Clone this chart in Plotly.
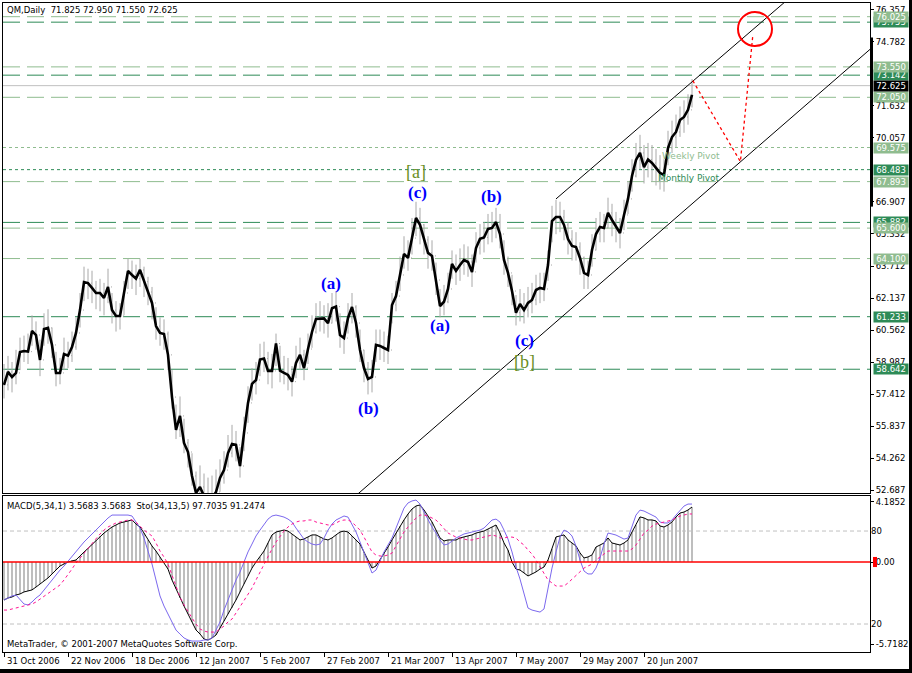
import plotly.graph_objects as go

# ---------------- data ----------------
date_tick_bars = [0, 16, 32, 48, 64, 80, 96, 112, 128, 144, 160]
date_tick_labels = ["31 Oct 2006", "22 Nov 2006", "18 Dec 2006", "12 Jan 2007", "5 Feb 2007",
                    "27 Feb 2007", "21 Mar 2007", "13 Apr 2007", "7 May 2007", "29 May 2007", "20 Jun 2007"]

close = [57.87,58.51,58.26,58.46,59.49,59.54,59.51,60.53,60.33,59.10,
60.63,60.68,59.84,58.46,58.46,59.39,59.31,59.74,60.43,61.56,
62.94,62.89,62.65,62.40,62.40,62.16,62.70,61.56,61.27,61.27,
62.40,63.49,63.29,63.11,63.54,62.96,62.45,61.91,60.77,60.43,
60.38,59.35,57.27,55.65,56.34,55.01,54.56,53.38,52.54,52.84,
52.39,52.19,52.29,52.59,53.28,53.67,54.51,54.96,54.91,53.87,
55.50,56.98,57.92,58.11,59.12,59.17,58.56,58.56,59.91,58.57,
58.46,58.36,58.03,58.95,59.35,58.70,59.64,60.48,61.12,61.15,
61.15,60.92,61.65,61.73,60.33,60.18,61.17,61.71,60.92,59.59,
58.70,58.16,58.26,59.84,59.79,59.69,59.59,61.81,62.25,63.29,
64.33,64.13,65.11,66.10,65.76,65.02,64.38,64.23,63.04,61.76,
61.97,62.60,63.83,63.49,63.78,64.03,63.93,63.44,64.62,65.07,
65.14,65.56,65.61,65.90,65.31,64.03,63.39,62.50,61.43,61.86,
61.56,61.91,62.06,62.55,62.65,62.60,63.78,65.95,66.15,66.15,
65.76,65.06,64.72,64.67,64.13,63.39,63.29,64.52,65.31,65.66,
65.61,66.35,66.00,65.66,65.36,66.25,67.04,68.17,68.96,69.31,
68.61,68.98,68.81,68.57,68.32,68.22,69.55,70.09,70.34,70.93,
71.08,71.43,72.17]

high = [58.9,59.3,59.0,59.6,60.2,60.3,60.4,61.3,61.0,60.1,
61.4,61.6,60.7,59.5,59.2,60.2,60.0,60.5,61.2,62.4,
63.7,63.6,63.5,63.0,63.1,62.9,63.6,62.4,62.0,61.9,
63.0,64.1,64.0,63.8,64.1,63.7,63.2,62.7,61.7,61.2,
61.1,60.5,58.6,56.9,57.3,56.2,55.2,54.5,53.6,53.9,
53.5,53.3,53.4,53.7,54.2,54.6,55.4,55.9,55.6,54.8,
56.3,57.8,58.7,59.0,59.9,60.0,59.5,59.4,60.4,59.8,
59.3,59.2,58.8,59.8,60.2,59.6,60.4,61.3,61.9,62.0,
61.8,61.9,62.4,62.5,61.4,61.0,61.9,62.4,61.8,60.6,
59.6,59.0,59.1,60.6,60.6,60.5,60.3,62.4,63.0,64.2,
65.2,65.0,66.1,66.9,66.6,65.8,65.2,65.0,63.9,62.6,
62.8,63.4,64.5,64.3,64.6,64.8,64.7,64.3,65.4,65.8,
65.9,66.3,66.4,66.6,66.3,65.0,64.2,63.3,62.3,62.6,
62.4,62.7,62.9,63.3,63.4,63.4,64.5,66.7,67.0,66.9,
66.5,65.9,65.5,65.4,64.9,64.2,64.0,65.3,66.1,66.4,
66.3,67.1,66.8,66.4,66.1,67.0,67.9,69.0,69.8,70.2,
69.7,69.8,69.7,69.5,69.2,69.0,70.4,70.9,71.2,71.6,
71.9,72.2,72.95]

low = [57.2,57.6,57.5,57.9,58.6,59.0,58.9,59.8,59.6,58.3,
59.8,59.9,59.2,57.8,57.9,58.6,58.7,59.0,59.6,60.7,
62.0,62.1,61.9,61.6,61.5,61.3,61.9,60.9,60.5,60.6,
61.3,62.6,62.6,62.3,62.7,62.2,61.8,61.1,60.1,59.8,
59.6,58.6,56.7,55.2,55.3,54.5,53.8,52.9,52.1,52.2,
51.9,51.8,51.9,52.0,52.6,53.0,53.8,54.3,54.1,53.3,
54.6,56.0,57.1,57.4,58.3,58.5,57.9,57.7,58.8,58.0,
57.9,57.6,57.3,58.2,58.6,58.1,58.9,59.7,60.4,60.5,
60.4,60.2,60.9,61.0,59.7,59.4,60.4,60.9,60.2,59.0,
58.0,57.4,57.5,59.0,59.1,59.0,58.9,60.9,61.5,62.5,
63.6,63.5,64.3,65.2,64.8,64.3,63.6,63.5,62.3,61.2,
61.3,61.9,63.1,62.8,63.0,63.3,63.2,62.7,63.9,64.3,
64.4,64.8,64.9,65.1,64.6,63.3,62.7,61.8,60.8,61.0,
60.9,61.2,61.4,61.8,61.9,62.0,63.0,64.9,65.3,65.4,
65.0,64.3,64.0,64.0,63.3,62.6,62.6,63.7,64.5,64.9,
64.9,65.6,65.2,64.9,64.6,65.5,66.3,67.4,68.1,68.5,
67.8,68.1,67.9,67.7,67.5,67.4,68.7,69.3,69.6,70.1,
70.3,70.7,71.55]

macd = [-2.64,-2.50,-2.43,-2.29,-2.22,-2.08,-2.01,-1.94,-1.74,-1.53,
-1.32,-1.11,-0.83,-0.56,-0.28,-0.14,0.0,0.07,0.14,0.42,
0.69,0.97,1.25,1.53,1.81,2.01,2.22,2.43,2.57,2.71,
2.78,2.85,2.92,2.64,2.43,2.01,1.53,1.11,0.76,0.35,
0.0,-0.49,-1.25,-1.88,-2.50,-3.06,-3.61,-4.17,-4.72,-5.00,
-5.35,-5.42,-5.28,-5.07,-4.58,-4.10,-3.61,-3.19,-2.64,-2.08,
-1.53,-0.97,-0.42,0.0,0.35,0.76,1.32,1.88,2.08,2.15,
2.22,2.15,1.94,1.74,1.53,1.60,1.74,1.88,1.88,1.74,
1.60,1.53,1.67,1.88,2.08,2.15,2.08,1.81,1.53,1.25,
0.69,0.14,-0.42,-0.28,0.14,0.63,1.04,1.53,2.01,2.50,
2.92,3.33,3.68,3.89,3.96,3.61,3.19,2.78,2.22,1.67,
1.46,1.53,1.53,1.53,1.67,1.74,1.81,1.88,2.01,2.08,
2.15,2.29,2.43,2.57,2.01,1.32,0.83,0.0,-0.49,-0.56,
-0.76,-0.97,-0.83,-0.69,-0.49,-0.35,0.14,0.90,1.74,1.81,
1.88,1.53,1.32,1.11,0.63,0.28,0.35,0.49,1.04,1.18,
1.32,1.67,1.32,1.25,1.18,1.32,1.53,2.08,2.57,3.13,
3.06,2.92,2.92,2.85,2.50,2.43,2.57,2.78,3.13,3.40,
3.47,3.61,3.82]

stoch_main = [35.5,36.8,38.1,38.7,35.5,32.9,32.3,34.2,36.8,38.7,
41.9,45.2,48.4,51.6,54.8,57.4,60.6,63.9,67.1,70.3,
72.9,75.5,78.1,80.6,83.2,85.8,88.4,90.3,90.3,90.3,
90.3,90.3,89.7,85.8,81.9,75.5,67.7,58.7,48.4,38.1,
31.6,26.5,21.3,16.1,13.5,11.0,9.7,9.0,9.0,9.0,
9.7,9.7,11.0,16.1,21.3,29.0,35.5,41.9,48.4,53.5,
60.0,66.5,71.6,76.8,80.6,84.5,87.7,89.7,90.3,89.7,
89.0,87.7,85.8,81.9,78.1,74.8,72.9,71.6,71.0,71.6,
75.5,80.6,84.5,87.1,88.4,89.7,89.0,84.5,79.4,72.9,
66.5,59.4,52.9,54.8,61.3,66.5,71.0,75.5,81.9,88.4,
94.8,98.1,99.4,100.0,97.4,92.3,87.1,82.6,78.7,74.2,
71.0,71.6,73.5,75.5,76.8,78.1,78.7,79.4,80.0,80.6,
81.9,84.5,87.1,87.7,85.8,80.6,74.8,66.5,56.8,49.0,
39.4,30.3,29.0,28.4,27.7,29.7,43.2,56.1,66.5,76.1,
80.6,79.4,76.8,70.3,61.3,54.2,52.3,52.3,56.1,62.6,
71.6,78.7,78.1,77.4,76.1,74.8,75.5,82.6,90.3,93.5,
92.9,91.6,90.3,89.0,85.8,85.2,85.2,87.1,90.3,93.5,
96.1,97.4,97.4]

stoch_signal = [29.0,29.0,29.7,30.3,31.0,31.6,32.3,32.9,34.2,36.1,
38.1,40.0,41.9,43.2,45.2,48.4,51.6,55.5,59.4,62.6,
65.8,69.0,71.6,74.8,78.1,80.6,82.6,83.9,85.2,85.8,
86.5,87.1,87.1,85.8,83.2,80.6,78.7,76.8,72.3,67.1,
63.2,58.7,51.6,43.9,37.4,32.3,27.7,23.9,20.0,16.8,
15.5,14.8,14.8,14.8,16.8,18.7,21.3,23.2,27.1,31.0,
35.5,39.4,43.2,48.4,53.5,58.7,63.9,68.4,72.9,76.8,
80.0,82.6,84.5,85.8,86.5,86.5,87.1,87.1,85.8,85.2,
84.5,83.9,83.9,85.2,86.5,87.1,87.1,85.8,83.2,80.6,
76.1,71.0,66.5,64.5,63.9,63.9,64.5,65.8,70.3,75.5,
79.4,82.6,85.8,88.4,90.3,90.3,89.7,88.4,87.1,84.5,
81.3,78.7,77.4,76.1,75.5,74.8,74.2,74.2,74.8,75.5,
76.1,76.8,77.4,76.8,75.5,75.5,76.1,76.1,75.5,72.9,
71.0,67.7,65.2,61.3,56.8,52.3,48.4,46.5,44.5,44.5,
44.5,46.5,49.0,51.6,54.2,56.1,57.4,58.7,61.3,63.2,
65.2,67.1,67.1,67.1,67.1,67.1,67.1,68.4,71.0,74.8,
78.7,80.6,83.2,84.5,85.2,85.8,86.5,87.1,88.4,89.7,
90.3,91.0,91.0]

price_ticks = [76.357, 74.782, 71.632, 70.057, 66.907, 65.332, 63.712, 62.137,
               60.562, 58.987, 57.412, 55.837, 54.262, 52.687]

# horizontal levels: value, colour kind, dotted?
level_values = [75.755, 73.142, 68.483, 65.882, 61.233, 58.642,
                76.025, 73.550, 72.050, 69.575, 67.893, 65.600, 64.100]
level_kind = ["dark", "dark", "dark", "dark", "dark", "dark",
              "light", "light", "light", "light", "light", "light", "light"]
level_dotted = [False, False, True, False, False, False,
                False, False, False, True, False, False, False]
last_price = 72.625
header_text = "QM,Daily  71.825 72.950 71.550 72.625"
macd_header = "MACD(5,34,1) 3.5683 3.5683  Sto(34,13,5) 97.7035 91.2474"
copyright_text = "MetaTrader, \u00a9 2001-2007 MetaQuotes Software Corp."

wave_text = ["(a)", "(b)", "(c)", "(a)", "(b)", "(c)"]
wave_bar = [81.75, 91.0, 103.25, 109.0, 121.75, 130.0]
wave_price = [62.89, 56.73, 67.38, 60.78, 67.14, 60.08]
degree_text = ["[a]", "[b]"]
degree_bar = [103.0, 130.0]
degree_price = [68.37, 59.0]

upper_channel_bar = [138, 205]
upper_channel_price = [67.04, 78.41]
lower_channel_bar = [85, 217]
lower_channel_price = [51.9, 74.5]
projection_bar = [172.2, 184.1, 187.2]
projection_price = [72.87, 68.88, 75.1]
target_bar = [183.5, 192.0]
target_price = [74.58, 76.26]

pivot_text = ["Weekly Pivot", "Monthly Pivot"]
pivot_bar = [164.0, 163.0]
pivot_price = [69.16, 68.07]
pivot_kind = ["light", "dark"]

macd_ticks = [4.1852, 0.0, -5.7182]
macd_tick_text = ["4.1852", "0.00", "-5.7182"]
stoch_levels = [80, 20]

# ---------------- styling ----------------
LIGHT = "#8FBC8F"
DARK = "#2E8B57"
FONT = "DejaVu Sans"
W, H = 912, 673
L, R, T, B = 3, 42, 3, 21
plot_w = W - L - R
plot_h = H - T - B
main_bottom_px = 493
macd_top_px = 496

def py(px):  # pixel y -> paper y
    return (H - B - px) / plot_h

def pxx(px):  # pixel x -> paper x
    return (px - L) / plot_w

bars = list(range(len(close)))
open_ = [close[0]] + close[:-1]

fig = go.Figure()

fig.add_trace(go.Ohlc(x=bars, open=open_, high=high, low=low, close=close,
                      increasing=dict(line=dict(color="#A8A8A8", width=1)),
                      decreasing=dict(line=dict(color="#A8A8A8", width=1)),
                      tickwidth=0.25, xaxis="x", yaxis="y", hoverinfo="skip",
                      showlegend=False))
fig.add_trace(go.Scatter(x=bars, y=close, mode="lines",
                         line=dict(color="black", width=2.6),
                         xaxis="x", yaxis="y", hoverinfo="skip", showlegend=False))
fig.add_trace(go.Scatter(x=upper_channel_bar, y=upper_channel_price, mode="lines",
                         line=dict(color="black", width=1), xaxis="x", yaxis="y",
                         hoverinfo="skip", showlegend=False))
fig.add_trace(go.Scatter(x=lower_channel_bar, y=lower_channel_price, mode="lines",
                         line=dict(color="black", width=1), xaxis="x", yaxis="y",
                         hoverinfo="skip", showlegend=False))
fig.add_trace(go.Scatter(x=projection_bar, y=projection_price, mode="lines",
                         line=dict(color="#FF0000", width=1.3, dash="3px,3px"),
                         xaxis="x", yaxis="y", hoverinfo="skip", showlegend=False))

# MACD panel
fig.add_trace(go.Bar(x=bars, y=macd, width=0.25, marker=dict(color="#BEBEBE", line=dict(width=0)),
                     xaxis="x2", yaxis="y2", hoverinfo="skip", showlegend=False))
fig.add_trace(go.Scatter(x=bars, y=macd, mode="lines", line=dict(color="black", width=1),
                         xaxis="x2", yaxis="y2", hoverinfo="skip", showlegend=False))
fig.add_trace(go.Scatter(x=bars, y=stoch_main, mode="lines", line=dict(color="#7B68EE", width=1),
                         xaxis="x2", yaxis="y3", hoverinfo="skip", showlegend=False))
fig.add_trace(go.Scatter(x=bars, y=stoch_signal, mode="lines",
                         line=dict(color="#FF1493", width=1, dash="3px,3px"),
                         xaxis="x2", yaxis="y3", hoverinfo="skip", showlegend=False))

shapes = []
for v, k, d in zip(level_values, level_kind, level_dotted):
    shapes.append(dict(type="line", xref="paper", yref="y", x0=0, x1=1, y0=v, y1=v,
                       layer="below",
                       line=dict(color=LIGHT if k == "light" else DARK, width=1,
                                 dash="3px,3px" if d else "17px,7px")))
shapes.append(dict(type="line", xref="paper", yref="y", x0=0, x1=1, y0=last_price, y1=last_price,
                   layer="below", line=dict(color="#C0C0C0", width=1)))
shapes.append(dict(type="circle", xref="x", yref="y", x0=target_bar[0], x1=target_bar[1],
                   y0=target_price[0], y1=target_price[1], line=dict(color="#FF0000", width=2)))
# MACD zero line and stochastic levels
shapes.append(dict(type="line", xref="paper", yref="y2", x0=0, x1=1, y0=0, y1=0,
                   line=dict(color="#FF0000", width=1.5)))
for lv in stoch_levels:
    shapes.append(dict(type="line", xref="paper", yref="y3", x0=0, x1=1, y0=lv, y1=lv,
                       layer="below", line=dict(color="#C0C0C0", width=1, dash="4px,3px")))
# thick marker on price scale
shapes.append(dict(type="line", xref="paper", yref="y", x0=1.0017, x1=1.0017, y0=66.66, y1=75.0,
                   line=dict(color="black", width=3)))
# red marker at zero label
shapes.append(dict(type="rect", xref="paper", yref="y2", x0=pxx(873), x1=pxx(877), y0=-0.35, y1=0.35,
                   fillcolor="#FF0000", line=dict(width=0)))
# window frame (dark right/bottom edges)
shapes.append(dict(type="rect", xref="paper", yref="paper", x0=pxx(909), x1=pxx(913),
                   y0=py(674), y1=py(-1), fillcolor="black", line=dict(width=0)))
shapes.append(dict(type="rect", xref="paper", yref="paper", x0=pxx(-1), x1=pxx(913),
                   y0=py(674), y1=py(669), fillcolor="black", line=dict(width=0)))

annotations = []
small = dict(family=FONT, size=8.5, color="black")
annotations.append(dict(xref="paper", yref="paper", x=pxx(5), y=py(10), xanchor="left", yanchor="middle",
                        text=header_text, showarrow=False, font=small))
annotations.append(dict(xref="paper", yref="paper", x=pxx(5), y=py(506), xanchor="left", yanchor="middle",
                        text=macd_header, showarrow=False, font=small))
annotations.append(dict(xref="paper", yref="paper", x=pxx(5), y=py(644), xanchor="left", yanchor="middle",
                        text=copyright_text, showarrow=False, font=small))
for b, lab in zip(date_tick_bars, date_tick_labels):
    annotations.append(dict(xref="x2", yref="paper", x=b, y=py(661), xanchor="left", yanchor="middle",
                            xshift=1, text=lab, showarrow=False, font=small))
for t, b, p in zip(wave_text, wave_bar, wave_price):
    annotations.append(dict(xref="x", yref="y", x=b, y=p, text="<b>%s</b>" % t, showarrow=False,
                            font=dict(family="Liberation Serif", size=17, color="#0000FF")))
for t, b, p in zip(degree_text, degree_bar, degree_price):
    annotations.append(dict(xref="x", yref="y", x=b, y=p, text=t, showarrow=False,
                            font=dict(family="Liberation Serif", size=18, color="#6B8E23")))
for t, b, p, k in zip(pivot_text, pivot_bar, pivot_price, pivot_kind):
    annotations.append(dict(xref="x", yref="y", x=b, y=p, text=t, showarrow=False, xanchor="left",
                            font=dict(family=FONT, size=9, color=LIGHT if k == "light" else DARK)))
# price level boxes on the scale (dark first, light on top)
for v, k in zip(level_values, level_kind):
    annotations.append(dict(xref="paper", yref="y", x=pxx(873), y=v, xanchor="left", yanchor="middle",
                            text="%.3f" % v, showarrow=False, bgcolor=LIGHT if k == "light" else DARK,
                            width=34, height=10, borderpad=0, align="center",
                            font=dict(family=FONT, size=8.5, color="white")))
annotations.append(dict(xref="paper", yref="y", x=pxx(873), y=last_price, xanchor="left", yanchor="middle",
                        text="%.3f" % last_price, showarrow=False, bgcolor="black",
                        width=34, height=10, borderpad=0, align="center",
                        font=dict(family=FONT, size=8.5, color="white")))

x_range = [-0.25, 216.5]
axis_common = dict(showgrid=False, zeroline=False, showline=True, linecolor="black", linewidth=1,
                   mirror=True)

fig.update_layout(
    width=W, height=H, margin=dict(l=L, r=R, t=T, b=B, pad=0),
    paper_bgcolor="white", plot_bgcolor="white", showlegend=False,
    font=dict(family=FONT, size=8.5, color="black"),
    xaxis=dict(domain=[0, 1], range=x_range, anchor="y", showticklabels=False, ticks="",
               rangeslider=dict(visible=False), **axis_common),
    yaxis=dict(domain=[py(main_bottom_px), 1], range=[52.54, 76.70], side="right", anchor="x",
               tickvals=price_ticks, ticktext=["%.3f" % v for v in price_ticks],
               ticks="outside", ticklen=3, tickcolor="black",
               tickfont=dict(family=FONT, size=8.5, color="black"), **axis_common),
    xaxis2=dict(domain=[0, 1], range=x_range, anchor="y2", tickvals=date_tick_bars,
                showticklabels=False, ticks="outside", ticklen=4, tickcolor="black", **axis_common),
    yaxis2=dict(domain=[0, py(macd_top_px)], range=[-6.25, 4.583], side="right", anchor="x2",
                tickvals=macd_ticks, ticktext=macd_tick_text, ticks="outside", ticklen=3,
                tickcolor="black", tickfont=dict(family=FONT, size=8.5, color="black"), **axis_common),
    yaxis3=dict(overlaying="y2", range=[1.94, 102.6], side="right", anchor="x2",
                tickvals=stoch_levels, ticktext=[str(v) for v in stoch_levels], ticks="",
                showgrid=False, zeroline=False, showline=False,
                tickfont=dict(family=FONT, size=8.5, color="black")),
    shapes=shapes, annotations=annotations, bargap=0,
)

fig.write_html("out.html", config={"displayModeBar": False})
